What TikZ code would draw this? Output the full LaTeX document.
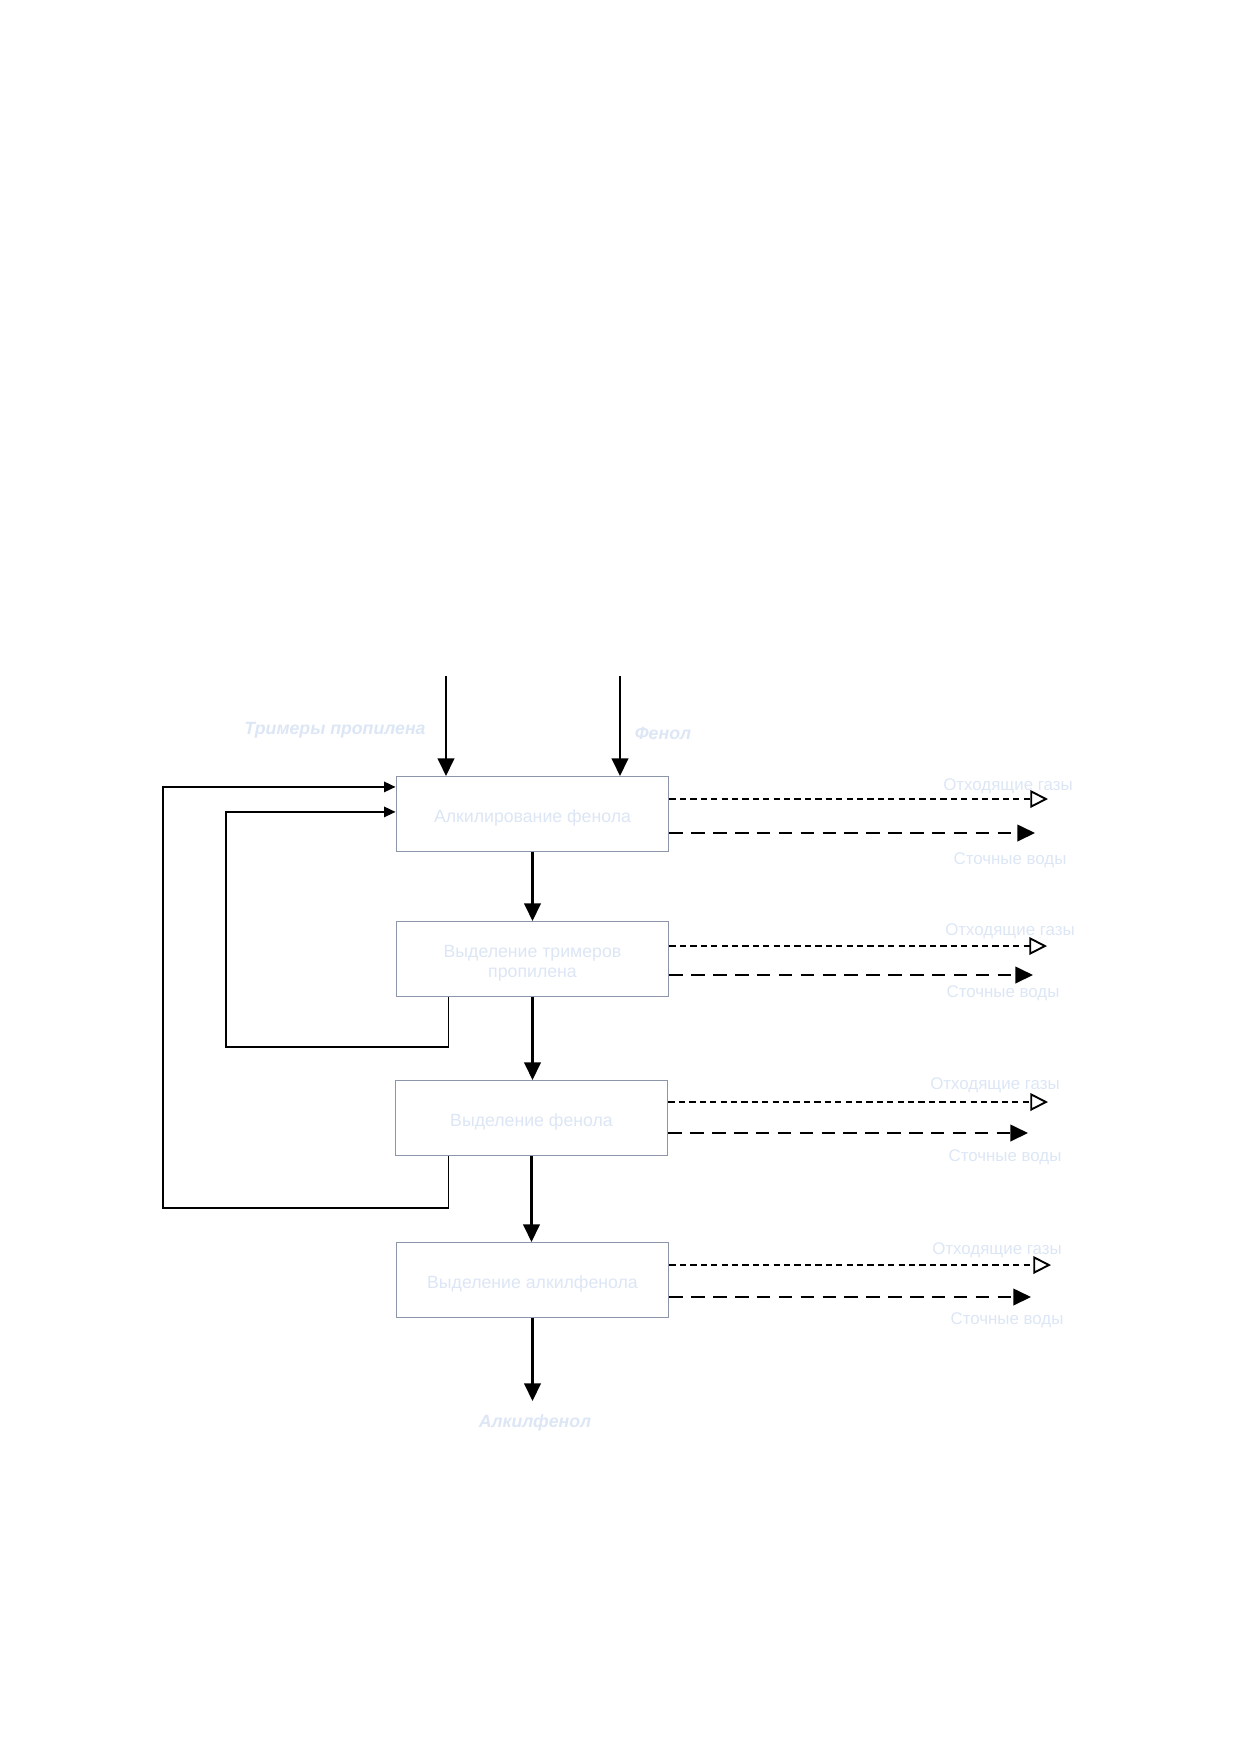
\documentclass[tikz,border=0pt]{standalone}
\usepackage{fontspec}
\setmainfont{Liberation Sans}
\usetikzlibrary{arrows.meta}
\definecolor{faint}{RGB}{220,230,245}
\definecolor{boxline}{RGB}{140,150,168}
\tikzset{
  stage/.style={draw=boxline, line width=0.5pt, fill=white, minimum width=131pt,
    minimum height=36pt, align=center, text=faint, text height=10pt, text depth=2pt,
    font=\fontsize{8.5}{9.8}\selectfont},
  flow/.style={line width=1pt, -{Triangle[length=8.5pt,width=8pt]}},
  back/.style={line width=0.8pt, -{Triangle[length=5.5pt,width=5pt]}},
  gas/.style={line width=0.9pt, dash pattern=on 3pt off 2pt, -{Triangle[open,length=8.5pt,width=8.5pt]}},
  water/.style={line width=0.9pt, dash pattern=on 6.5pt off 4pt, -{Triangle[length=8.5pt,width=8pt]}},
  lbl/.style={text=faint, font=\fontsize{8.1}{10}\selectfont},
  feed/.style={text=faint, font=\fontsize{8.5}{10}\selectfont\bfseries\itshape}
}
\begin{document}
\begin{tikzpicture}[x=0.48007pt, y=-0.48007pt]
  \useasboundingbox (0,0) rectangle (1240,1754);

  \node[stage] (alk)  at (532.5, 814) {Алкилирование фенола};
  \node[stage, text height=19.8pt] (trim) at (532.5, 959) {Выделение тримеров\\пропилена};
  \node[stage] (phen) at (531.5,1118) {Выделение фенола};
  \node[stage] (prod) at (532.5,1280) {Выделение алкилфенола};

  % feeds
  \coordinate (s1) at (446,676);
  \coordinate (s2) at (620,676);
  \node[feed] (t1) at (335,730) {Тримеры пропилена};
  \node[feed] (t2) at (663,733) {Фенол};
  \draw[flow] (s1) -- (s1 |- alk.north);
  \draw[flow] (s2) -- (s2 |- alk.north);

  % main line
  \draw[flow] (alk.south) -- (trim.north);
  \draw[flow] (trim.south) -- (trim.south |- phen.north);
  \draw[flow] (phen.south) -- (phen.south |- prod.north);
  \coordinate (e1) at (532.5,1401);
  \draw[flow] (prod.south) -- (e1);
  \node[feed] (t3) at (535,1423) {Алкилфенол};

  % recycles
  \draw[back] ([xshift=25.4pt]trim.south west) |- (226,1047) |- ([yshift=1pt]alk.west);
  \draw[back] ([xshift=25.9pt]phen.south west) |- (163,1208) |- ([yshift=13pt]alk.west);

  % off-gas and waste water
  \coordinate (g1) at (1048, 799);  \coordinate (w1) at (1035, 833);
  \coordinate (g2) at (1047, 946);  \coordinate (w2) at (1033, 975);
  \coordinate (g3) at (1048,1102);  \coordinate (w3) at (1028,1133);
  \coordinate (g4) at (1051,1265);  \coordinate (w4) at (1031,1297);
  \draw[gas]   (alk.east |- g1)  -- (g1);
  \draw[water] (alk.east |- w1)  -- (w1);
  \draw[gas]   (trim.east |- g2) -- (g2);
  \draw[water] (trim.east |- w2) -- (w2);
  \draw[gas]   (phen.east |- g3) -- (g3);
  \draw[water] (phen.east |- w3) -- (w3);
  \draw[gas]   (prod.east |- g4) -- (g4);
  \draw[water] (prod.east |- w4) -- (w4);

  \node[lbl] (a1) at (1008, 786) {Отходящие газы};
  \node[lbl] (b1) at (1010, 860) {Сточные воды};
  \node[lbl] (a2) at (1010, 931) {Отходящие газы};
  \node[lbl] (b2) at (1003, 993) {Сточные воды};
  \node[lbl] (a3) at ( 995,1085) {Отходящие газы};
  \node[lbl] (b3) at (1005,1157) {Сточные воды};
  \node[lbl] (a4) at ( 997,1250) {Отходящие газы};
  \node[lbl] (b4) at (1007,1320) {Сточные воды};
\end{tikzpicture}
\end{document}
